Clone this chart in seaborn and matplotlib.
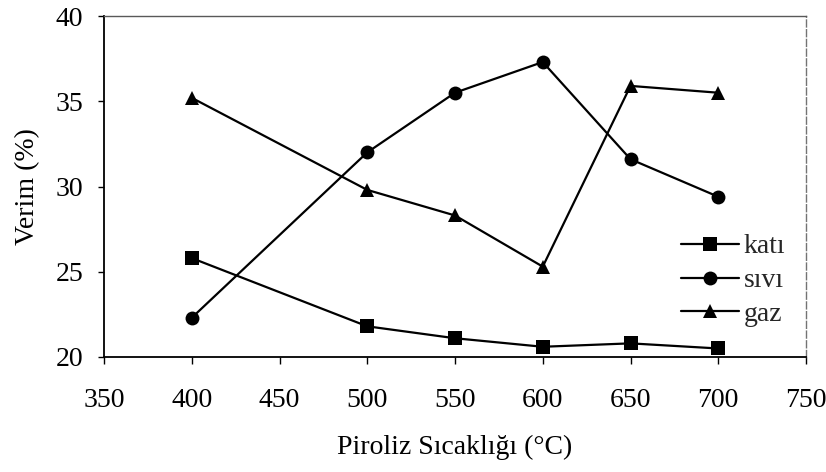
import matplotlib
matplotlib.use("Agg")
import matplotlib.pyplot as plt
import seaborn as sns
import pandas as pd

# Pyrolysis product yields by temperature
temperatures = [400, 500, 550, 600, 650, 700]
kati = [25.8, 21.8, 21.1, 20.6, 20.8, 20.5]
sivi = [22.3, 32.0, 35.5, 37.3, 31.6, 29.4]
gaz = [35.2, 29.8, 28.3, 25.3, 35.9, 35.5]
series_names = ["katı", "sıvı", "gaz"]

x_ticks = [350, 400, 450, 500, 550, 600, 650, 700, 750]
y_ticks = [20, 25, 30, 35, 40]

df = pd.concat(
    [
        pd.DataFrame({"T": temperatures, "Verim": vals, "Ürün": name})
        for name, vals in zip(series_names, [kati, sivi, gaz])
    ],
    ignore_index=True,
)

sns.set_theme(style="white")
plt.rcParams["font.family"] = ["Liberation Serif", "DejaVu Serif"]

W, H = 826, 472
fig = plt.figure(figsize=(W / 100, H / 100), dpi=100)
ax = fig.add_axes([104 / W, 1 - 357 / H, (806 - 104) / W, (357 - 16) / H])

sns.lineplot(
    data=df, x="T", y="Verim", hue="Ürün", style="Ürün",
    hue_order=series_names, style_order=series_names,
    palette=["black"] * 3, markers=["s", "o", "^"], dashes=False,
    markersize=10, linewidth=1.6, markeredgewidth=0,
    ax=ax, legend=True,
)

ax.set_xlim(350, 750)
ax.set_ylim(20, 40)
ax.set_xticks(x_ticks)
ax.set_yticks(y_ticks)
ax.set_xticklabels([str(v) for v in x_ticks])
ax.set_yticklabels([str(v) for v in y_ticks])

fs = 20
ax.tick_params(axis="x", bottom=True, direction="out", length=5, width=1,
               color="black", labelsize=fs, pad=17, labelcolor="black")
ax.tick_params(axis="y", left=True, direction="out", length=4, width=1,
               color="black", labelsize=fs, pad=11, labelcolor="black")

ax.set_xlabel("Piroliz Sıcaklığı (°C)", fontsize=fs, color="black", labelpad=16)
ax.set_ylabel("Verim (%)", fontsize=fs, color="black", labelpad=11)

for side in ["left", "bottom"]:
    ax.spines[side].set_visible(True)
    ax.spines[side].set_color("black")
    ax.spines[side].set_linewidth(1.3)
ax.spines["top"].set_color("0.35")
ax.spines["top"].set_linewidth(1.0)
ax.spines["top"].set_linestyle((0, (3, 1)))
ax.spines["right"].set_color("0.45")
ax.spines["right"].set_linewidth(1.0)
ax.spines["right"].set_linestyle((0, (5, 2)))

handles, labels = ax.get_legend_handles_labels()
ax.legend(
    handles, labels, loc="upper left",
    bbox_to_anchor=(681 / W, 1 - 234 / H), bbox_transform=fig.transFigure,
    frameon=False, fontsize=fs, handlelength=2.1, handletextpad=0.15,
    labelspacing=0.3, borderpad=0, borderaxespad=0,
)

fig.savefig("out.png", dpi=100)
